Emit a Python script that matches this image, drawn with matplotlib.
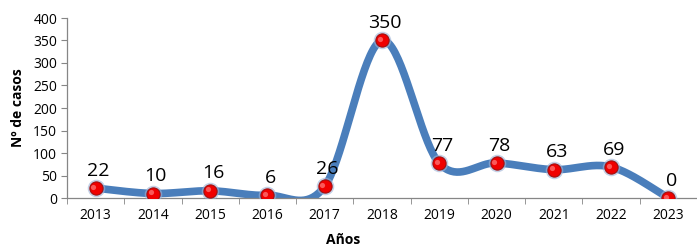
import numpy as np
import matplotlib
matplotlib.use("Agg")
import matplotlib.pyplot as plt

years = ["2013", "2014", "2015", "2016", "2017", "2018",
         "2019", "2020", "2021", "2022", "2023"]
cases = [22, 10, 16, 6, 26, 350, 77, 78, 63, 69, 0]

LINE_COLOR = "#4A7EBB"
AXIS_COLOR = "#868686"

plt.rcParams["font.family"] = ["Open Sans", "DejaVu Sans"]


def smooth_curve(x, y, n=40):
    # Excel-style smoothed line: Catmull-Rom as cubic Bezier segments
    x = np.asarray(x, float)
    y = np.asarray(y, float)
    px = np.concatenate([[x[0]], x, [x[-1]]])
    py = np.concatenate([[y[0]], y, [y[-1]]])
    xs, ys = [], []
    t = np.linspace(0, 1, n)
    for i in range(1, len(px) - 2):
        p0 = np.array([px[i], py[i]])
        p3 = np.array([px[i + 1], py[i + 1]])
        c1 = p0 + (np.array([px[i + 1], py[i + 1]]) - np.array([px[i - 1], py[i - 1]])) / 6
        c2 = p3 - (np.array([px[i + 2], py[i + 2]]) - np.array([px[i], py[i]])) / 6
        b = ((1 - t)[:, None] ** 3 * p0 + 3 * ((1 - t) ** 2 * t)[:, None] * c1
             + 3 * ((1 - t) * t ** 2)[:, None] * c2 + (t ** 3)[:, None] * p3)
        xs.append(b[:, 0])
        ys.append(b[:, 1])
    return np.concatenate(xs), np.concatenate(ys)


fig = plt.figure(figsize=(6.97, 2.47), dpi=100)
ax = fig.add_axes([67 / 697, 1 - 198 / 247, 1 - 67 / 697, (198 - 18) / 247])

x = np.arange(len(years))
sx, sy = smooth_curve(x, cases)
ax.plot(sx, sy, color=LINE_COLOR, lw=5.5, solid_capstyle="round", zorder=2)

# marker shadow + red sphere
ax.scatter(x, cases, s=160, color="#9DB3D6", alpha=0.6, zorder=3, linewidths=0)
ax.scatter(x, cases, s=90, color="#F00000", edgecolors="#A01010", linewidths=0.8, zorder=4)
ax.scatter(x - 0.04, np.array(cases) + 3, s=14, color="#FF8080", alpha=0.7, zorder=5, linewidths=0)

for xi, v in zip(x, cases):
    ax.annotate(str(v), (xi, v), xytext=(2, 6), textcoords="offset points",
                ha="center", va="bottom", fontsize=14, color="black", zorder=6)

ax.set_xlim(-0.5, len(years) - 0.5)
ax.set_ylim(0, 400)
ax.set_yticks(np.arange(0, 401, 50))
ax.set_xticks(x)
ax.set_xticklabels(years)
ax.set_xticks(np.arange(-0.5, len(years), 1), minor=True)
ax.tick_params(axis="x", which="major", length=0, pad=7, labelsize=10)
ax.tick_params(axis="x", which="minor", length=4, color=AXIS_COLOR)
ax.tick_params(axis="y", length=4, color=AXIS_COLOR, labelsize=10, pad=3)

for side in ["top", "right"]:
    ax.spines[side].set_visible(False)
for side in ["left", "bottom"]:
    ax.spines[side].set_color(AXIS_COLOR)
    ax.spines[side].set_linewidth(0.9)

ax.set_ylabel("Nº de casos", fontsize=10, fontweight="bold", labelpad=6)
ax.text(0.438, -0.235, "Años", transform=ax.transAxes, ha="center", va="center",
        fontsize=10, fontweight="bold")

fig.savefig("out.png", dpi=100)
